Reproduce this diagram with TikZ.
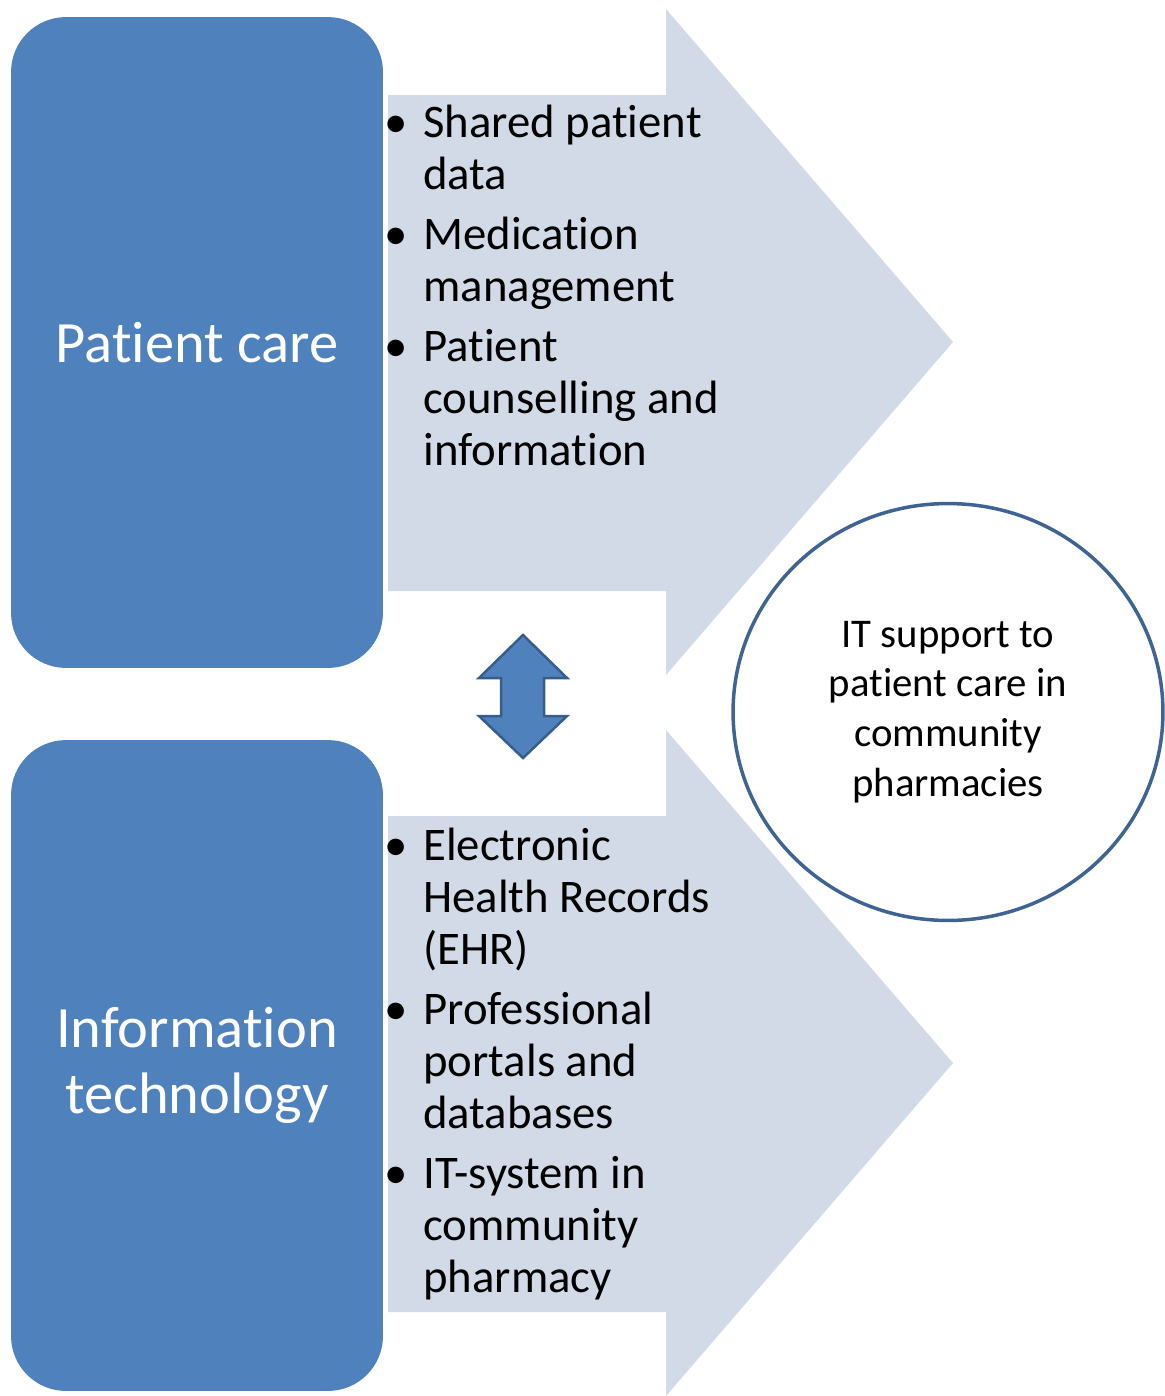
\documentclass[tikz,border=0pt]{standalone}
\usepackage{fontspec}
\setmainfont{Carlito}[Ligatures=CommonOff]
\usepackage{xcolor}
\usetikzlibrary{shapes.geometric,positioning}

\definecolor{boxblue}{HTML}{4F81BD}
\definecolor{boxedge}{HTML}{385D8A}
\definecolor{arrowgray}{HTML}{D3DAE7}
\definecolor{ringblue}{HTML}{3F6393}

\begin{document}
\begin{tikzpicture}[x=0.02cm, y=-0.02cm,
        bigbox/.style={fill=boxblue, rectangle, rounded corners=1.1cm, minimum width=7.44cm,
            minimum height=13.02cm, text=white, align=center, inner sep=0pt,
            font=\fontsize{33.3}{38}\selectfont},
        bullets/.style={anchor=base west, align=left, inner sep=0pt,
            font=\fontsize{26.6}{29.5}\selectfont},
        goal/.style={draw=ringblue, line width=0.07cm, ellipse, minimum width=8.6cm,
            minimum height=8.34cm, align=center, inner sep=0pt,
            font=\fontsize{23.2}{28.3}\selectfont}
    ]
        \useasboundingbox (0,0) rectangle (1164,1396);

        % Arrows behind the lists
        \fill[arrowgray] (388,95) -- (666,95) -- (666,9) -- (953,342) -- (666,675) -- (666,591) -- (388,591) -- cycle;
        \fill[arrowgray] (388,816) -- (666,816) -- (666,730) -- (953,1063) -- (666,1396) -- (666,1312) -- (388,1312) -- cycle;

        % Blocks
        \node [bigbox] (care) at (197,342.5) {Patient care};
        \node [bigbox] (tech) at (197,1065.5) {Information\\technology};

        % Lists (anchored at the baseline of the last line)
        \node [bullets] (care1) at (423,189) {\llap{\textbullet\hspace{9pt}}Shared patient\\data};
        \node [bullets] (care2) at (423,301) {\llap{\textbullet\hspace{9pt}}Medication\\management};
        \node [bullets] (care3) at (423,465) {\llap{\textbullet\hspace{9pt}}Patient\\counselling and\\information};

        \node [bullets] (tech1) at (423,964) {\llap{\textbullet\hspace{9pt}}Electronic\\Health Records\\(EHR)};
        \node [bullets] (tech2) at (423,1128) {\llap{\textbullet\hspace{9pt}}Professional\\portals and\\databases};
        \node [bullets] (tech3) at (423,1292) {\llap{\textbullet\hspace{9pt}}IT-system in\\community\\pharmacy};

        % Double arrow
        \filldraw[fill=boxblue, draw=boxedge, line width=0.05cm, line join=miter]
            (523,635) -- (567,678) -- (544,678) -- (544,716) -- (567,716) -- (523,758)
            -- (479,716) -- (501,716) -- (501,678) -- (479,678) -- cycle;

        % Outcome
        \node [goal] (support) at (948,712) {IT support to\\patient care in\\community\\pharmacies};
\end{tikzpicture}
\end{document}
